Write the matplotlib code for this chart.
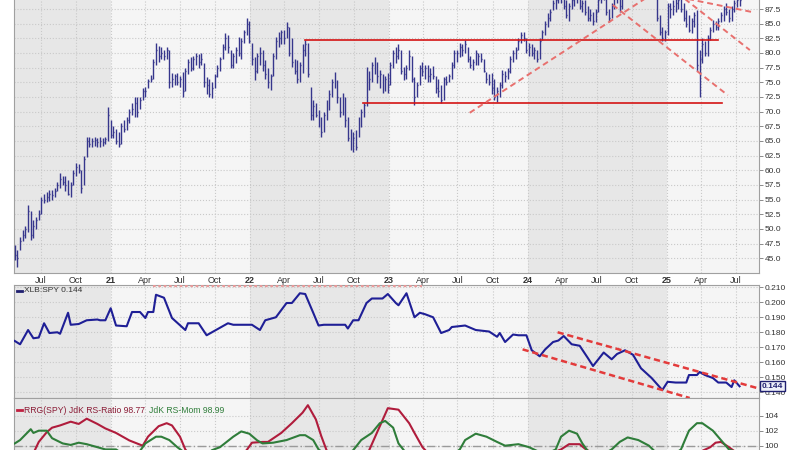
import numpy as np
import pandas as pd
import matplotlib
matplotlib.use('Agg')
import matplotlib.pyplot as plt
import matplotlib.dates as mdates

plt.rcParams['font.family'] = ['Liberation Sans', 'DejaVu Sans']

# XLB weekly bars, first bar = week ending 2020-04-24
high = [
    # 2020
    47.2, 46.4, 48.6, 49.8, 50.5, 54.0, 53.0, 51.5, 52.0, 53.2, 55.5, 56.0, 56.3, 56.6, 56.6, 57.0, 58.0, 59.5,
    59.0, 59.0, 58.3, 58.0, 60.0, 61.2, 61.0, 60.0, 62.5, 65.7, 65.7, 65.5, 65.7, 65.5, 65.7, 65.5, 65.7, 70.8,
    # 2021
    68.5, 67.5, 67.0, 66.5, 68.0, 68.5, 69.0, 70.5, 71.5, 72.5, 72.5, 72.5, 74.0, 74.2, 75.5, 76.2, 79.0, 81.7,
    81.2, 81.0, 80.5, 81.0, 80.5, 76.6, 76.5, 76.6, 76.0, 76.8, 77.5, 79.0, 79.3, 79.5, 80.0, 79.8, 80.0, 78.3,
    75.9, 75.5, 75.0, 76.5, 78.0, 79.3, 81.5, 83.4, 83.0, 80.5, 80.0, 81.0, 82.7, 82.5, 84.0, 85.9,
    # 2022
    85.5, 81.7, 79.3, 80.0, 81.0, 80.5, 78.8, 77.5, 76.5, 80.0, 82.7, 83.5, 84.0, 84.0, 85.3, 84.5, 82.5, 79.0,
    78.8, 78.5, 81.5, 82.2, 81.7, 74.2, 72.0, 71.5, 70.3, 69.0, 70.0, 72.0, 73.7, 75.5, 76.8, 75.4, 72.5, 73.2,
    72.5, 69.0, 67.0, 66.5, 66.9, 69.0, 70.5, 71.5, 77.6, 77.0, 78.5, 79.3, 78.5, 77.1, 76.5, 76.0,
    # 2023
    76.6, 78.5, 80.5, 81.0, 81.6, 80.5, 77.6, 78.0, 80.5, 79.5, 75.9, 75.0, 78.0, 78.5, 78.0, 78.0, 77.5, 77.8,
    76.0, 75.5, 74.5, 75.9, 76.0, 76.5, 78.5, 80.5, 80.5, 81.7, 81.5, 82.3, 81.0, 79.5, 79.0, 80.5, 80.0, 80.0,
    79.0, 76.8, 76.5, 76.6, 75.5, 74.2, 75.0, 77.1, 77.0, 77.5, 79.5, 80.5, 81.0, 82.5, 83.6, 83.5,
    # 2024
    82.5, 81.7, 81.5, 81.0, 80.5, 82.5, 84.0, 85.5, 86.8, 87.5, 89.0, 89.5, 90.5, 91.0, 90.5, 89.0, 88.5, 89.5,
    90.0, 90.5, 90.0, 89.0, 89.0, 88.0, 87.5, 87.0, 87.5, 89.5, 90.5, 91.0, 90.5, 87.5, 88.5, 90.0, 90.5, 90.5,
    91.0, 92.5, 94.0, 95.0, 94.5, 94.5, 95.5, 94.5, 92.5, 94.5, 94.0, 93.5, 93.5, 91.5, 86.5, 84.5,
    # 2025
    84.0, 88.5, 88.5, 89.0, 89.5, 89.5, 89.5, 88.5, 87.3, 86.5, 86.0, 87.0, 87.3, 80.5, 82.6, 82.0, 83.0, 84.5,
    85.6, 85.5, 86.0, 87.0, 88.0, 88.5, 87.5, 88.0, 89.0, 89.5, 90.0,
]
low = [
    # 2020
    44.7, 43.5, 46.4, 48.0, 48.5, 49.5, 48.1, 48.5, 50.0, 51.5, 52.5, 54.4, 54.5, 54.8, 55.0, 55.5, 56.5, 57.0,
    57.5, 56.5, 55.8, 55.4, 57.5, 59.0, 59.5, 56.1, 57.5, 62.3, 64.0, 64.0, 64.2, 64.0, 64.0, 64.2, 64.5, 65.0,
    # 2021
    65.5, 65.5, 64.5, 64.0, 64.5, 66.5, 66.9, 68.0, 69.5, 69.0, 69.1, 70.5, 72.0, 72.5, 74.0, 75.0, 75.5, 78.0,
    78.5, 79.0, 78.8, 79.0, 74.0, 74.2, 74.5, 74.5, 74.2, 72.5, 73.5, 76.5, 77.0, 77.1, 78.0, 77.5, 78.0, 74.2,
    73.0, 72.5, 72.3, 74.0, 75.9, 77.0, 79.0, 80.5, 80.0, 77.4, 77.5, 78.3, 79.5, 79.0, 81.7, 83.0,
    # 2022
    81.7, 77.9, 75.4, 76.6, 78.0, 77.0, 75.5, 74.0, 73.7, 76.0, 79.0, 81.0, 81.5, 81.5, 82.5, 79.5, 77.6, 76.5,
    74.9, 75.0, 76.6, 79.5, 75.9, 68.6, 68.6, 69.0, 67.4, 65.7, 66.5, 68.5, 70.3, 72.5, 74.0, 71.5, 69.1, 69.5,
    67.4, 65.0, 63.4, 63.1, 63.5, 65.7, 67.4, 69.0, 71.0, 73.7, 75.0, 76.5, 74.9, 74.0, 73.2, 73.5,
    # 2023
    73.2, 74.5, 77.5, 78.3, 79.0, 76.5, 75.4, 75.5, 77.1, 75.0, 71.1, 72.5, 74.5, 76.0, 75.5, 75.0, 75.0, 75.5,
    73.2, 72.5, 71.5, 72.0, 74.5, 75.0, 75.5, 77.5, 78.5, 79.3, 79.5, 80.0, 78.5, 77.5, 77.1, 78.0, 78.0, 78.5,
    76.8, 74.9, 74.5, 73.0, 72.0, 71.6, 72.5, 74.0, 75.0, 75.5, 76.6, 78.5, 79.0, 80.5, 81.7, 82.0,
    # 2024
    80.0, 79.5, 79.5, 79.0, 78.5, 79.0, 82.2, 83.0, 84.5, 85.5, 87.3, 87.5, 88.5, 88.5, 87.5, 86.0, 85.5, 87.5,
    88.0, 88.5, 87.5, 87.0, 86.5, 85.5, 85.5, 84.8, 85.3, 87.0, 88.5, 89.0, 86.5, 85.3, 86.0, 87.5, 88.5, 87.0,
    87.5, 89.8, 91.5, 92.5, 92.0, 92.5, 93.0, 91.5, 90.5, 91.5, 91.0, 91.0, 91.5, 85.5, 83.0, 82.0,
    # 2025
    82.0, 83.0, 86.0, 86.5, 87.0, 87.5, 87.0, 85.5, 84.5, 83.5, 83.4, 84.5, 77.0, 72.5, 78.3, 79.5, 79.5, 82.2,
    83.5, 84.0, 84.0, 85.3, 85.5, 86.5, 85.3, 85.5, 87.0, 87.8, 88.0,
]
close = [
    # 2020
    45.5, 45.0, 48.0, 49.0, 50.0, 53.0, 49.0, 50.5, 51.5, 52.5, 55.0, 55.0, 55.5, 56.0, 55.8, 56.5, 57.5, 58.5,
    58.0, 57.5, 56.0, 57.5, 59.5, 60.5, 60.0, 57.0, 62.0, 65.0, 64.5, 65.0, 65.2, 64.8, 65.0, 64.8, 65.3, 69.5,
    # 2021
    66.0, 66.5, 65.0, 64.5, 67.5, 67.0, 68.5, 70.0, 70.5, 71.5, 70.0, 72.0, 73.5, 73.5, 75.2, 75.5, 78.5, 80.5,
    79.5, 80.0, 79.5, 80.5, 75.0, 75.5, 76.0, 75.0, 75.5, 73.5, 77.0, 78.5, 77.5, 79.0, 79.5, 78.5, 79.0, 75.0,
    74.5, 73.0, 74.0, 76.0, 77.5, 79.0, 81.0, 82.5, 81.0, 78.0, 79.5, 80.5, 80.0, 82.0, 83.5, 85.0,
    # 2022
    82.0, 79.0, 77.0, 79.5, 80.0, 78.0, 76.5, 75.0, 76.0, 79.5, 82.0, 82.5, 83.5, 82.5, 84.5, 80.0, 78.5, 77.0,
    75.5, 78.0, 80.5, 81.5, 76.5, 69.5, 71.0, 69.5, 68.0, 66.5, 69.5, 71.5, 73.0, 75.0, 75.5, 72.5, 70.0, 72.5,
    68.5, 65.5, 64.0, 65.5, 64.0, 68.5, 70.0, 71.2, 76.5, 75.5, 78.0, 77.5, 76.0, 76.5, 74.0, 75.5,
    # 2023
    74.5, 78.0, 80.0, 79.5, 80.5, 77.0, 76.5, 77.5, 79.5, 75.5, 72.5, 74.5, 77.5, 77.0, 77.5, 76.0, 76.5, 76.0,
    74.0, 73.5, 72.0, 75.5, 75.0, 76.0, 78.0, 80.0, 80.0, 81.0, 80.5, 81.5, 79.0, 78.0, 78.5, 80.0, 79.5, 79.0,
    77.0, 75.5, 75.0, 74.0, 72.5, 73.5, 74.5, 76.5, 76.0, 77.0, 79.0, 80.0, 80.5, 82.0, 83.0, 82.5,
    # 2024
    80.5, 81.0, 80.0, 80.5, 79.0, 82.0, 83.5, 85.0, 86.0, 87.0, 88.5, 89.0, 90.0, 89.5, 88.0, 86.5, 88.0, 89.0,
    89.5, 89.5, 88.0, 88.5, 87.0, 86.0, 86.5, 85.5, 87.0, 89.0, 89.5, 90.0, 87.0, 86.0, 88.0, 89.5, 90.0, 88.0,
    90.5, 92.0, 93.5, 94.5, 93.0, 94.0, 94.5, 92.0, 91.5, 94.0, 91.5, 93.0, 92.5, 86.0, 83.5, 82.5,
    # 2025
    83.5, 88.0, 87.5, 88.0, 88.5, 89.0, 87.5, 86.0, 85.0, 84.0, 85.5, 86.5, 78.0, 79.0, 81.5, 80.0, 82.5, 84.0,
    85.0, 84.5, 85.5, 86.5, 87.5, 87.0, 86.0, 87.5, 88.5, 89.0, 89.0,
]

# XLB:SPY ratio, sampled weeks (index into weekly calendar)
ratio_week = [0, 2, 5, 7, 9, 11, 13, 16, 17, 20, 21, 24, 27, 31, 32, 34, 36, 38, 42, 44, 47, 49, 50, 52, 53,
              56, 59, 64, 65, 69, 72, 77, 80, 82, 89, 92, 94, 98, 102, 104, 107, 109, 112, 114, 116, 124, 125,
              127, 129, 132, 134, 138, 140, 143, 144, 147, 150, 152, 154, 157, 160, 163, 164, 169, 173, 178,
              181, 182, 184, 187, 189, 192, 194, 197, 199, 202, 204, 206, 209, 212, 215, 217, 221, 224, 226,
              229, 232, 235, 239, 243, 245, 248, 252, 253, 256, 257, 259, 262, 264, 267, 269, 270, 272]
ratio_val = [0.1742, 0.1720, 0.1815, 0.1760, 0.1765, 0.1860, 0.1795, 0.1800, 0.1790, 0.1930, 0.1850, 0.1855,
             0.1880, 0.1885, 0.1880, 0.1880, 0.1960, 0.1845, 0.1840, 0.1935, 0.1935, 0.1895, 0.1935, 0.1935,
             0.2050, 0.2030, 0.1895, 0.1815, 0.1860, 0.1860, 0.1780, 0.1830, 0.1860, 0.1850, 0.1850, 0.1815,
             0.1880, 0.1900, 0.1995, 0.1995, 0.2060, 0.2055, 0.1930, 0.1845, 0.1850, 0.1850, 0.1825, 0.1880,
             0.1880, 0.1995, 0.2025, 0.2025, 0.2055, 0.1995, 0.1980, 0.2060, 0.1900, 0.1930, 0.1920, 0.1900,
             0.1795, 0.1815, 0.1835, 0.1845, 0.1815, 0.1805, 0.1770, 0.1795, 0.1735, 0.1785, 0.1780, 0.1780,
             0.1680, 0.1640, 0.1685, 0.1735, 0.1745, 0.1775, 0.1720, 0.1710, 0.1630, 0.1575, 0.1665, 0.1620,
             0.1655, 0.1680, 0.1650, 0.1560, 0.1495, 0.1415, 0.1470, 0.1465, 0.1465, 0.1515, 0.1515, 0.1535,
             0.1515, 0.1495, 0.1465, 0.1465, 0.1435, 0.1480, 0.1440]

# RRG lines
mom_week = [0, 2, 6, 7, 9, 12, 14, 18, 21, 24, 27, 31, 34, 38, 41, 44, 47, 49, 53, 55, 58, 61, 64, 67, 71, 74,
            77, 82, 85, 88, 91, 93, 97, 102, 107, 109, 112, 114, 118, 122, 127, 130, 134, 137, 139, 142, 144,
            148, 156, 163, 167, 169, 173, 177, 181, 184, 189, 193, 196, 199, 203, 205, 208, 211, 213, 215, 219,
            224, 227, 230, 234, 238, 240, 244, 250, 253, 256, 258, 262, 265, 268, 272]
mom_val = [100.3, 100.75, 102.2, 101.7, 102.0, 102.0, 101.0, 100.3, 100.1, 100.4, 100.2, 99.8, 99.5, 99.5, 98.8,
           99.0, 99.3, 100.3, 101.2, 101.2, 100.75, 99.8, 99.0, 98.3, 98.5, 99.4, 99.8, 101.2, 101.9, 101.6,
           100.7, 100.3, 100.4, 100.75, 101.4, 101.4, 100.75, 99.5, 98.5, 98.0, 99.4, 100.75, 101.7, 103.0,
           103.3, 102.4, 100.3, 98.5, 97.5, 98.5, 99.5, 100.75, 101.6, 101.2, 100.5, 100.0, 100.2, 99.8, 99.3,
           98.8, 99.5, 101.2, 102.0, 101.6, 100.3, 99.3, 98.5, 99.5, 100.5, 101.1, 100.75, 100.0, 99.3, 98.0,
           99.5, 102.0, 103.0, 103.0, 102.0, 100.75, 99.5, 98.99]
rs_week = [0, 2, 7, 9, 12, 14, 17, 21, 24, 27, 31, 34, 38, 43, 48, 50, 54, 57, 59, 62, 64, 69, 79, 87, 89, 93,
           95, 100, 104, 108, 110, 113, 115, 117, 124, 129, 133, 137, 140, 144, 148, 150, 153, 159, 174, 189,
           200, 205, 208, 212, 214, 219, 238, 253, 261, 263, 265, 268, 272]
rs_val = [96.5, 97.5, 99.0, 100.5, 101.8, 102.4, 102.7, 103.2, 102.9, 103.6, 102.9, 102.3, 101.7, 100.7, 100.0,
          101.2, 102.6, 103.0, 102.7, 101.2, 99.5, 97.5, 97.0, 99.4, 100.4, 100.5, 100.5, 101.7, 103.0, 104.4,
          105.4, 103.5, 101.3, 99.4, 96.5, 97.0, 99.4, 102.6, 105.0, 104.8, 103.0, 101.7, 99.8, 97.5, 97.0,
          98.0, 98.8, 99.5, 100.2, 100.2, 99.6, 98.5, 97.5, 98.5, 99.8, 100.4, 100.5, 99.8, 98.77]

# drawn annotations
levels = [('2022-05-26', '2025-05-15', 82.3), ('2022-10-25', '2025-05-25', 71.4)]
trend_lines = [('2023-08-02', 69.8, '2024-12-13', 90.9),
               ('2024-08-12', 88.2, '2025-06-10', 72.8),
               ('2025-02-04', 89.9, '2025-08-07', 80.5),
               ('2025-02-04', 89.5, '2025-08-12', 87.0)]
channel_lines = [('2024-03-20', 0.1800, '2025-08-28', 0.1427),
                 ('2023-12-19', 0.1686, '2025-03-02', 0.1362)]

weeks = pd.date_range('2020-04-24', periods=len(close), freq='W-FRI')
wx = mdates.date2num(weeks)

bar_col = '#36368c'
grid_col = '#c9c9c9'
txt_col = '#333333'
x0, x1 = mdates.date2num(pd.Timestamp('2020-04-22')), mdates.date2num(pd.Timestamp('2025-08-31'))

fig = plt.figure(figsize=(8, 4.5), dpi=100)
ax1 = fig.add_axes([0.0175, 0.39333, 0.93125, 0.6322])
ax2 = fig.add_axes([0.0175, 0.11556, 0.93125, 0.25111])
ax3 = fig.add_axes([0.0175, -0.1071, 0.93125, 0.2227])

tick_dates = pd.date_range('2020-07-01', '2025-07-01', freq='QS-JAN')
tick_labels = [('%02d' % (d.year % 100)) if d.month == 1 else d.strftime('%b') for d in tick_dates]

for ax in (ax1, ax2, ax3):
    ax.set_facecolor('#f5f5f5')
    for yr in (2020, 2022, 2024):
        ax.axvspan(mdates.date2num(pd.Timestamp(f'{yr}-01-01')), mdates.date2num(pd.Timestamp(f'{yr + 1}-01-01')),
                   color='#e7e7e7', lw=0, zorder=0)
    ax.set_xlim(x0, x1)
    ax.set_xticks(mdates.date2num(tick_dates))
    ax.grid(True, color=grid_col, ls=':', lw=0.8)
    ax.set_axisbelow(True)
    ax.yaxis.tick_right()
    ax.tick_params(axis='y', direction='out', length=3, width=0.6, color='#777777', labelsize=6,
                   labelcolor=txt_col, pad=1)
    ax.tick_params(axis='x', length=0)
    for s in ax.spines.values():
        s.set_color('#a0a0a0')
        s.set_linewidth(0.8)

# price panel
ax1.vlines(wx, low, high, color=bar_col, lw=1.0, zorder=3)
ax1.hlines(close, wx, wx + 2.5, color=bar_col, lw=1.0, zorder=3)
for a, b, lvl in levels:
    ax1.plot(mdates.date2num(pd.to_datetime([a, b])), [lvl, lvl], color='#d41414', lw=1.2, zorder=4)
for a, ya, b, yb in trend_lines:
    ax1.plot(mdates.date2num(pd.to_datetime([a, b])), [ya, yb], color='#e8706e', lw=1.4,
             dashes=(3, 2), zorder=4)
ax1.set_ylim(42.47, 91.0)
price_ticks = np.arange(45, 87.6, 2.5)
ax1.set_yticks(price_ticks)
ax1.set_yticklabels(['%.1f' % v for v in price_ticks])
ax1.set_xticklabels(tick_labels, fontsize=6.5, color=txt_col)
ax1.tick_params(axis='x', pad=2)
for lab in ax1.get_xticklabels():
    if lab.get_text().isdigit():
        lab.set_fontweight('bold')

# ratio panel
ax2.plot(wx[ratio_week], ratio_val, color='#1f1f96', lw=1.5, zorder=3)
for a, ya, b, yb in channel_lines:
    ax2.plot(mdates.date2num(pd.to_datetime([a, b])), [ya, yb], color='#e33b3b', lw=1.8,
             dashes=(2.5, 1.5), zorder=4)
ax2.plot(mdates.date2num(pd.to_datetime(['2021-04-21', '2023-03-31'])), [0.2110, 0.2110],
         color='#e89a9a', lw=1.6, dashes=(1.2, 1.2), zorder=4)
ax2.set_ylim(0.1362, 0.2115)
ratio_ticks = np.arange(0.14, 0.2101, 0.01)
ax2.set_yticks(ratio_ticks)
ax2.set_yticklabels(['%.3f' % v for v in ratio_ticks])
ax2.set_xticklabels([])
ax2.plot([0.0045, 0.011], [0.947, 0.947], transform=ax2.transAxes, color='#1f1f70', lw=2)
ax2.text(0.0135, 0.947, 'XLB:SPY 0.144', transform=ax2.transAxes, fontsize=6, color=txt_col, va='center')
ax2.text(1.004, 0.144, '0.144', transform=ax2.get_yaxis_transform(), fontsize=6, fontweight='bold',
         color='#1f1f70', va='center', ha='left', zorder=6, clip_on=False,
         bbox=dict(boxstyle='square,pad=0.2', fc='#eef0fa', ec='#1f1f70', lw=1.0))

# RRG panel
ax3.axhline(100, color='#9a9a9a', lw=1.0, dashes=(6, 2, 1, 2), zorder=2)
ax3.plot(wx[rs_week], rs_val, color='#b01c3c', lw=1.5, zorder=3)
ax3.plot(wx[mom_week], mom_val, color='#2f7d3a', lw=1.5, zorder=3)
ax3.set_ylim(93.0, 106.36)
ax3.set_yticks([100, 102, 104])
ax3.set_xticklabels([])
ax3.plot([0.0045, 0.011], [0.88, 0.88], transform=ax3.transAxes, color='#c02040', lw=2)
t1 = ax3.text(0.0135, 0.88, 'RRG(SPY) JdK RS-Ratio 98.77', transform=ax3.transAxes, fontsize=6.2,
              color='#8a1b35', va='center')
ax3.annotate('JdK RS-Mom 98.99', xy=(1, 0.5), xycoords=t1, xytext=(3, 0), textcoords='offset points',
             fontsize=6.2, color='#2f7d3a', va='center')

fig.savefig('out.png', dpi=100, facecolor='white')
